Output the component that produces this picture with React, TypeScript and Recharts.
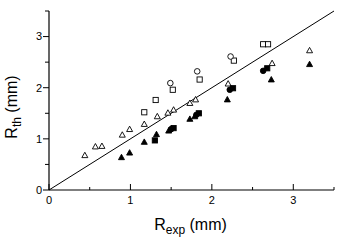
import React from 'react';
import { ScatterChart, Scatter, XAxis, YAxis, ReferenceLine } from 'recharts';

const xTicks = [0, 0.5, 1, 1.5, 2, 2.5, 3, 3.5];
const yTicks = [0, 0.5, 1, 1.5, 2, 2.5, 3, 3.5];
const xLabelText = { main: 'R', sub: 'exp', unit: ' (mm)' };
const yLabelText = { main: 'R', sub: 'th', unit: ' (mm)' };

const openTriangles = [
  { x: 0.44, y: 0.68 }, { x: 0.57, y: 0.85 }, { x: 0.65, y: 0.86 },
  { x: 0.9, y: 1.08 }, { x: 0.99, y: 1.19 }, { x: 1.17, y: 1.29 },
  { x: 1.33, y: 1.44 }, { x: 1.46, y: 1.51 }, { x: 1.53, y: 1.57 },
  { x: 1.73, y: 1.7 }, { x: 1.8, y: 1.77 }, { x: 2.2, y: 2.08 },
  { x: 2.74, y: 2.48 }, { x: 3.2, y: 2.73 },
];
const filledTriangles = [
  { x: 0.89, y: 0.64 }, { x: 0.99, y: 0.73 }, { x: 1.17, y: 0.94 },
  { x: 1.32, y: 1.09 }, { x: 1.47, y: 1.16 }, { x: 1.73, y: 1.39 },
  { x: 1.79, y: 1.44 }, { x: 2.19, y: 1.77 }, { x: 2.73, y: 2.16 },
  { x: 3.2, y: 2.46 },
];
const filledSquares = [
  { x: 1.3, y: 0.97 }, { x: 1.53, y: 1.21 }, { x: 1.84, y: 1.5 },
  { x: 2.26, y: 1.99 }, { x: 2.68, y: 2.38 },
];
const filledCircles = [
  { x: 1.5, y: 1.19 }, { x: 1.81, y: 1.47 }, { x: 2.22, y: 1.96 },
  { x: 2.63, y: 2.33 },
];
const openSquares = [
  { x: 1.17, y: 1.52 }, { x: 1.31, y: 1.76 }, { x: 1.52, y: 1.96 },
  { x: 1.85, y: 2.16 }, { x: 2.27, y: 2.53 }, { x: 2.63, y: 2.85 },
  { x: 2.69, y: 2.85 },
];
const openCircles = [
  { x: 1.49, y: 2.09 }, { x: 1.82, y: 2.32 }, { x: 2.23, y: 2.61 },
];

const FONT = '"Liberation Sans", Arial, Helvetica, sans-serif';

const tri = (filled: boolean) => (p: any) => {
  const { cx, cy } = p;
  const s = 3;
  return (
    <path
      d={`M${cx},${cy - s} L${cx + s},${cy + s * 0.8} L${cx - s},${cy + s * 0.8} Z`}
      fill={filled ? '#000' : '#fff'}
      stroke="#000"
      strokeWidth={0.9}
    />
  );
};
const sq = (filled: boolean) => (p: any) => {
  const { cx, cy } = p;
  const s = 2.6;
  return (
    <rect x={cx - s} y={cy - s} width={2 * s} height={2 * s}
      fill={filled ? '#000' : '#fff'} stroke="#000" strokeWidth={0.9} />
  );
};
const circ = (filled: boolean) => (p: any) => {
  const { cx, cy } = p;
  return <circle cx={cx} cy={cy} r={2.8} fill={filled ? '#000' : '#fff'} stroke="#000" strokeWidth={0.9} />;
};

const XTick = (p: any) => {
  const { x, y, payload } = p;
  const v = payload.value;
  const major = Number.isInteger(v);
  return (
    <g>
      <line x1={x} x2={x} y1={y} y2={y - (major ? 6 : 3)} stroke="#000" strokeWidth={1} />
      {major && (
        <text x={x} y={y + 14} textAnchor="middle" fontSize={11} fontFamily={FONT} fill="#000">
          {v}
        </text>
      )}
    </g>
  );
};

const YTick = (p: any) => {
  const { x, y, payload } = p;
  const v = payload.value;
  const major = Number.isInteger(v);
  return (
    <g>
      <line x1={x} x2={x - (major ? 6 : 4)} y1={y} y2={y} stroke="#000" strokeWidth={1} />
      {major && (
        <text x={x - 7} y={y} dy="0.35em" textAnchor="end" fontSize={11} fontFamily={FONT} fill="#000">
          {v}
        </text>
      )}
    </g>
  );
};

const XTitle = (p: any) => {
  const vb = p.viewBox;
  const cx = vb.x + vb.width / 2;
  return (
    <text x={cx - 1} y={230} textAnchor="middle" fontSize={16} fontFamily={FONT} fill="#000">
      {xLabelText.main}
      <tspan fontSize={12} dy={4}>{xLabelText.sub}</tspan>
      <tspan dy={-4}>{xLabelText.unit}</tspan>
    </text>
  );
};

const YTitle = (p: any) => {
  const cx = 17;
  const cy = 107;
  return (
    <text x={cx} y={cy} transform={`rotate(-90 ${cx} ${cy})`} textAnchor="middle" fontSize={16} fontFamily={FONT} fill="#000">
      {yLabelText.main}
      <tspan fontSize={12} dy={4}>{yLabelText.sub}</tspan>
      <tspan dy={-4}>{yLabelText.unit}</tspan>
    </text>
  );
};

export default function App() {
  return (
    <div style={{ position: 'absolute', left: 0, top: 0, width: 341, height: 242, background: '#fff' }}>
      <ScatterChart width={341} height={242} margin={{ top: 11, right: 7, bottom: 0, left: 0 }}>
        <XAxis
          type="number"
          dataKey="x"
          domain={[0, 3.5]}
          ticks={xTicks}
          interval={0}
          tickSize={0}
          tickMargin={0}
          tickLine={false}
          tick={<XTick />}
          axisLine={{ stroke: '#000', strokeWidth: 1.2 }}
          height={52}
          label={<XTitle />}
        />
        <YAxis
          type="number"
          dataKey="y"
          domain={[0, 3.5]}
          ticks={yTicks}
          interval={0}
          tickSize={0}
          tickMargin={0}
          tickLine={false}
          tick={<YTick />}
          axisLine={{ stroke: '#000', strokeWidth: 1.2 }}
          width={49}
          label={<YTitle />}
        />
        <ReferenceLine
          segment={[{ x: 0, y: 0 }, { x: 3.5, y: 3.5 }]}
          stroke="#000"
          strokeWidth={1}
          ifOverflow="visible"
        />
        <Scatter data={openTriangles} shape={tri(false)} isAnimationActive={false} />
        <Scatter data={openSquares} shape={sq(false)} isAnimationActive={false} />
        <Scatter data={openCircles} shape={circ(false)} isAnimationActive={false} />
        <Scatter data={filledTriangles} shape={tri(true)} isAnimationActive={false} />
        <Scatter data={filledSquares} shape={sq(true)} isAnimationActive={false} />
        <Scatter data={filledCircles} shape={circ(true)} isAnimationActive={false} />
      </ScatterChart>
    </div>
  );
}
